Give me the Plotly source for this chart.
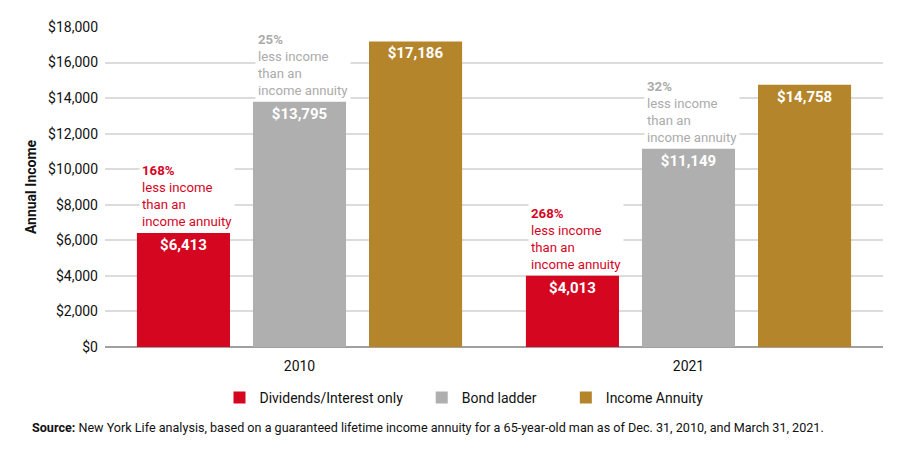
import plotly.graph_objects as go

years = ["2010", "2021"]
series_names = ["Dividends/Interest only", "Bond ladder", "Income Annuity"]
dividends = [6413, 4013]
bond_ladder = [13795, 11149]
annuity = [17186, 14758]
pct_dividends = ["168%", "268%"]
pct_bond = ["25%", "32%"]
y_ticks = [0, 2000, 4000, 6000, 8000, 10000, 12000, 14000, 16000, 18000]

RED = "#D5061F"
GRAY = "#AFAFAF"
GOLD = "#B5852B"
FONT = "Roboto, sans-serif"
NB = "\u00a0"
legend_pad = [NB * 4, NB * 7, ""]

fig = go.Figure()
for name, pad, vals, col in [(series_names[0], legend_pad[0], dividends, RED),
                             (series_names[1], legend_pad[1], bond_ladder, GRAY),
                             (series_names[2], legend_pad[2], annuity, GOLD)]:
    fig.add_trace(go.Bar(
        name=name + pad, x=years, y=vals, marker=dict(color=col, line=dict(width=0)),
        text=[f"<b>${v:,}</b>" for v in vals], textposition="inside",
        insidetextanchor="end", textangle=0,
        textfont=dict(color="white", size=15, family=FONT),
        cliponaxis=False,
    ))

slot = 116 / 389.0
half_bar = 93 / 389.0 / 2
annos = []
for i in range(2):
    for off, vals, pcts, col in [(-slot, dividends, pct_dividends, RED),
                                 (0, bond_ladder, pct_bond, "#ABABAB")]:
        annos.append(dict(
            x=i + off - half_bar + 2 / 389.0, y=vals[i], xref="x", yref="y",
            xanchor="left", yanchor="bottom", yshift=1,
            text=f"<b>{pcts[i]}</b><br>less income<br>than an<br>income annuity",
            showarrow=False, align="left", width=90,
            bgcolor="white", borderpad=2,
            font=dict(color=col, size=13.2, family=FONT),
        ))

annos.append(dict(
    xref="paper", yref="paper", x=(30 - 105) / 778.0, y=-(427 - 347) / 320.0,
    xanchor="left", yanchor="middle",
    text="<b>Source:</b> New York Life analysis, based on a guaranteed lifetime income annuity for a 65-year-old man as of Dec. 31, 2010, and March 31, 2021.",
    showarrow=False, font=dict(size=12.6, color="#111", family=FONT),
))

fig.update_layout(
    width=892, height=442,
    margin=dict(l=97, r=17, t=19, b=103),
    plot_bgcolor="white", paper_bgcolor="white",
    barmode="group", bargap=0.105, bargroupgap=0.198,
    font=dict(family=FONT, size=14, color="#111"),
    uniformtext=dict(mode="show", minsize=10),
    showlegend=True,
    legend=dict(orientation="h", x=(464 - 8 - 97) / 778.0, xanchor="center",
                y=-(398 - 347) / 320.0, yanchor="middle",
                font=dict(size=14, family=FONT), itemsizing="constant",
                itemwidth=30, tracegroupgap=0, traceorder="normal"),
    annotations=annos,
    xaxis=dict(showgrid=False, showline=False, ticks="", tickfont=dict(size=14),
               ticklabelstandoff=9),
    yaxis=dict(range=[0, 18000], tickvals=y_ticks,
               ticktext=[f"${v:,}" for v in y_ticks],
               showgrid=True, gridcolor="#DCDCDC", gridwidth=1.5,
               zeroline=True, zerolinecolor="#A0A0A0", zerolinewidth=1.5,
               tickfont=dict(size=14), ticklabelstandoff=6,
               title=dict(text="<b>Annual Income</b>", font=dict(size=14), standoff=8)),
)

fig.write_html("out.html")
